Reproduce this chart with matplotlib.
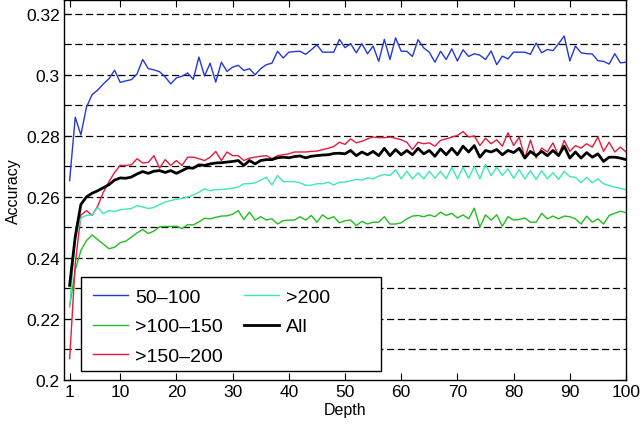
import numpy as np
import matplotlib
matplotlib.use("Agg")
import matplotlib.pyplot as plt
from matplotlib.patches import Rectangle

plt.rcParams["font.family"] = ["Liberation Sans", "DejaVu Sans"]

depth = np.arange(1, 101)

acc_50_100 = [
    0.2653, 0.2861, 0.2803, 0.2894, 0.2935, 0.2950, 0.2970, 0.2987, 0.3015, 0.2975,
    0.2980, 0.2984, 0.3003, 0.3050, 0.3020, 0.3016, 0.3010, 0.2993, 0.2970, 0.2990,
    0.2995, 0.3006, 0.2985, 0.3058, 0.2996, 0.3038, 0.2976, 0.3041, 0.3011, 0.3025,
    0.3031, 0.3014, 0.3020, 0.3000, 0.3020, 0.3033, 0.3038, 0.3077, 0.3055, 0.3074,
    0.3076, 0.3077, 0.3067, 0.3082, 0.3098, 0.3074, 0.3074, 0.3074, 0.3116, 0.3089,
    0.3102, 0.3072, 0.3102, 0.3069, 0.3094, 0.3044, 0.3116, 0.3050, 0.3121, 0.3077,
    0.3077, 0.3060, 0.3115, 0.3088, 0.3074, 0.3041, 0.3077, 0.3050, 0.3085, 0.3045,
    0.3082, 0.3060, 0.3069, 0.3064, 0.3050, 0.3078, 0.3033, 0.3061, 0.3052, 0.3074,
    0.3074, 0.3074, 0.3067, 0.3104, 0.3072, 0.3083, 0.3079, 0.3102, 0.3127, 0.3045,
    0.3094, 0.3072, 0.3069, 0.3068, 0.3046, 0.3044, 0.3035, 0.3069, 0.3039, 0.3041,
]

acc_100_150 = [
    0.2240, 0.2360, 0.2424, 0.2457, 0.2475, 0.2460, 0.2445, 0.2430, 0.2435, 0.2450,
    0.2455, 0.2468, 0.2482, 0.2493, 0.2480, 0.2488, 0.2502, 0.2503, 0.2503, 0.2504,
    0.2496, 0.2509, 0.2508, 0.2518, 0.2530, 0.2528, 0.2533, 0.2537, 0.2538, 0.2543,
    0.2555, 0.2526, 0.2550, 0.2524, 0.2535, 0.2524, 0.2528, 0.2511, 0.2522, 0.2524,
    0.2524, 0.2535, 0.2524, 0.2539, 0.2517, 0.2541, 0.2528, 0.2535, 0.2515, 0.2522,
    0.2524, 0.2506, 0.2520, 0.2511, 0.2517, 0.2517, 0.2535, 0.2511, 0.2511, 0.2515,
    0.2528, 0.2537, 0.2539, 0.2535, 0.2541, 0.2535, 0.2550, 0.2539, 0.2546, 0.2531,
    0.2541, 0.2528, 0.2563, 0.2501, 0.2541, 0.2524, 0.2541, 0.2504, 0.2535, 0.2524,
    0.2526, 0.2531, 0.2517, 0.2517, 0.2546, 0.2528, 0.2537, 0.2528, 0.2537, 0.2535,
    0.2528, 0.2511, 0.2537, 0.2517, 0.2528, 0.2511, 0.2539, 0.2546, 0.2553, 0.2548,
]

acc_150_200 = [
    0.2070, 0.2380, 0.2540, 0.2555, 0.2539, 0.2570, 0.2615, 0.2650, 0.2680, 0.2703,
    0.2703, 0.2705, 0.2725, 0.2711, 0.2713, 0.2735, 0.2694, 0.2722, 0.2703, 0.2719,
    0.2703, 0.2730, 0.2730, 0.2725, 0.2719, 0.2730, 0.2749, 0.2719, 0.2747, 0.2735,
    0.2735, 0.2719, 0.2727, 0.2730, 0.2733, 0.2735, 0.2725, 0.2735, 0.2738, 0.2741,
    0.2747, 0.2747, 0.2747, 0.2749, 0.2750, 0.2755, 0.2759, 0.2765, 0.2779, 0.2772,
    0.2790, 0.2777, 0.2782, 0.2790, 0.2796, 0.2794, 0.2794, 0.2796, 0.2792, 0.2787,
    0.2779, 0.2755, 0.2779, 0.2774, 0.2777, 0.2766, 0.2785, 0.2790, 0.2796, 0.2801,
    0.2814, 0.2796, 0.2800, 0.2768, 0.2792, 0.2774, 0.2787, 0.2766, 0.2810, 0.2768,
    0.2796, 0.2727, 0.2786, 0.2727, 0.2760, 0.2747, 0.2777, 0.2735, 0.2785, 0.2749,
    0.2768, 0.2760, 0.2774, 0.2763, 0.2796, 0.2749, 0.2779, 0.2747, 0.2763, 0.2747,
]

acc_200 = [
    0.2240, 0.2460, 0.2530, 0.2540, 0.2540, 0.2566, 0.2545, 0.2555, 0.2552, 0.2558,
    0.2560, 0.2562, 0.2571, 0.2567, 0.2562, 0.2565, 0.2575, 0.2583, 0.2588, 0.2592,
    0.2595, 0.2599, 0.2606, 0.2615, 0.2626, 0.2620, 0.2624, 0.2624, 0.2626, 0.2628,
    0.2632, 0.2643, 0.2643, 0.2646, 0.2655, 0.2664, 0.2639, 0.2670, 0.2650, 0.2650,
    0.2650, 0.2646, 0.2638, 0.2638, 0.2643, 0.2643, 0.2648, 0.2639, 0.2648, 0.2648,
    0.2653, 0.2657, 0.2655, 0.2662, 0.2659, 0.2668, 0.2673, 0.2670, 0.2689, 0.2659,
    0.2684, 0.2659, 0.2679, 0.2659, 0.2684, 0.2661, 0.2684, 0.2659, 0.2697, 0.2659,
    0.2697, 0.2661, 0.2700, 0.2659, 0.2706, 0.2670, 0.2697, 0.2670, 0.2692, 0.2661,
    0.2689, 0.2659, 0.2686, 0.2657, 0.2686, 0.2659, 0.2679, 0.2657, 0.2684, 0.2666,
    0.2664, 0.2646, 0.2664, 0.2646, 0.2659, 0.2643, 0.2637, 0.2632, 0.2628, 0.2623,
]

acc_all = [
    0.2310, 0.2470, 0.2575, 0.2600, 0.2612, 0.2620, 0.2630, 0.2640, 0.2655, 0.2662,
    0.2661, 0.2665, 0.2675, 0.2683, 0.2677, 0.2684, 0.2686, 0.2680, 0.2686, 0.2677,
    0.2686, 0.2695, 0.2694, 0.2705, 0.2703, 0.2708, 0.2711, 0.2712, 0.2714, 0.2716,
    0.2719, 0.2703, 0.2719, 0.2708, 0.2719, 0.2722, 0.2722, 0.2728, 0.2730, 0.2728,
    0.2732, 0.2734, 0.2728, 0.2733, 0.2735, 0.2737, 0.2738, 0.2742, 0.2743, 0.2741,
    0.2752, 0.2735, 0.2747, 0.2738, 0.2749, 0.2735, 0.2759, 0.2735, 0.2755, 0.2738,
    0.2752, 0.2738, 0.2759, 0.2741, 0.2752, 0.2733, 0.2757, 0.2738, 0.2759, 0.2738,
    0.2766, 0.2747, 0.2768, 0.2730, 0.2752, 0.2747, 0.2755, 0.2738, 0.2752, 0.2745,
    0.2759, 0.2727, 0.2749, 0.2735, 0.2749, 0.2735, 0.2752, 0.2735, 0.2766, 0.2727,
    0.2747, 0.2727, 0.2745, 0.2730, 0.2741, 0.2716, 0.2730, 0.2730, 0.2727, 0.2722,
]

labels = ["50–100", ">100–150", ">150–200", ">200", "All"]
colors = ["#2438d8", "#1fbf1f", "#e8193c", "#3ce8b4", "black"]
widths = [1.0, 1.0, 1.0, 1.0, 2.0]
series = [acc_50_100, acc_100_150, acc_150_200, acc_200, acc_all]

fig = plt.figure(figsize=(6.42, 4.27), dpi=100)
ax = fig.add_axes([0.0997, 0.1077, 0.8754, 0.89])

# dashed horizontal grid at every 0.01
for y in np.arange(0.21, 0.3201, 0.01):
    ax.axhline(y, color="black", linestyle=(0, (5.8, 2.8)), linewidth=0.9, zorder=1)

for vals, lab, col, lw in zip(series, labels, colors, widths):
    ax.plot(depth, vals, color=col, linewidth=lw, label=lab, zorder=2)

ax.set_xlim(0, 100)
ax.set_ylim(0.2, 0.3245)
ax.set_xticks([1, 10, 20, 30, 40, 50, 60, 70, 80, 90, 100])
ax.set_yticks([0.2, 0.22, 0.24, 0.26, 0.28, 0.3, 0.32])
ax.set_yticklabels(["0.2", "0.22", "0.24", "0.26", "0.28", "0.3", "0.32"])
ax.tick_params(direction="in", top=True, right=True, labelsize=12.5, length=5, pad=3)
for s in ax.spines.values():
    s.set_linewidth(1.0)

ax.set_xlabel("Depth", fontsize=11.5, labelpad=2)
ax.set_ylabel("Accuracy", fontsize=11.5, labelpad=4)

# legend box (MATLAB style, wider than its content)
box = Rectangle((0.0302, 0.0237), 0.534, 0.248, transform=ax.transAxes,
                facecolor="white", edgecolor="black", linewidth=1.0, zorder=4)
ax.add_patch(box)

leg = ax.legend(loc="upper left", bbox_to_anchor=(0.0302, 0.2717), borderaxespad=0,
                ncol=2, fontsize=14, frameon=False, handlelength=1.8,
                handletextpad=0.4, columnspacing=1.05, labelspacing=0.6,
                borderpad=0.6)
leg.set_zorder(5)

plt.savefig("out.png", dpi=100)
